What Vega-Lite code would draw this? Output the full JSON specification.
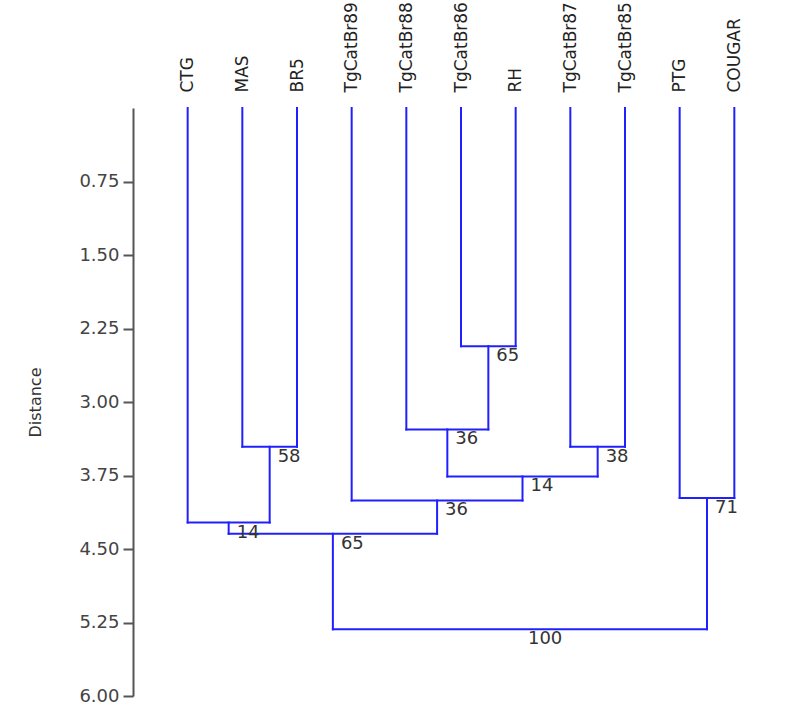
{
  "$schema": "https://vega.github.io/schema/vega-lite/v6.json",
  "width": 656,
  "height": 588,
  "autosize": {"type": "none"},
  "padding": {"left": 133, "top": 108, "right": 11, "bottom": 14},
  "background": "white",
  "config": {"view": {"stroke": null}},
  "datasets": {
    "segments": [
      {"x": 0, "x2": 0, "y": 0, "y2": 4.23},
      {"x": 1, "x2": 1, "y": 0, "y2": 3.457},
      {"x": 2, "x2": 2, "y": 0, "y2": 3.457},
      {"x": 3, "x2": 3, "y": 0, "y2": 4.005},
      {"x": 4, "x2": 4, "y": 0, "y2": 3.28},
      {"x": 5, "x2": 5, "y": 0, "y2": 2.43},
      {"x": 6, "x2": 6, "y": 0, "y2": 2.43},
      {"x": 7, "x2": 7, "y": 0, "y2": 3.457},
      {"x": 8, "x2": 8, "y": 0, "y2": 3.457},
      {"x": 9, "x2": 9, "y": 0, "y2": 3.98},
      {"x": 10, "x2": 10, "y": 0, "y2": 3.98},
      {"x": 5.5, "x2": 5.5, "y": 2.43, "y2": 3.28},
      {"x": 4.75, "x2": 4.75, "y": 3.28, "y2": 3.76},
      {"x": 1.5, "x2": 1.5, "y": 3.457, "y2": 4.23},
      {"x": 7.5, "x2": 7.5, "y": 3.457, "y2": 3.76},
      {"x": 6.125, "x2": 6.125, "y": 3.76, "y2": 4.005},
      {"x": 4.5625, "x2": 4.5625, "y": 4.005, "y2": 4.345},
      {"x": 9.5, "x2": 9.5, "y": 3.98, "y2": 5.32},
      {"x": 0.75, "x2": 0.75, "y": 4.23, "y2": 4.345},
      {"x": 2.65625, "x2": 2.65625, "y": 4.345, "y2": 5.32},
      {"x": 5, "x2": 6, "y": 2.43, "y2": 2.43},
      {"x": 4, "x2": 5.5, "y": 3.28, "y2": 3.28},
      {"x": 1, "x2": 2, "y": 3.457, "y2": 3.457},
      {"x": 7, "x2": 8, "y": 3.457, "y2": 3.457},
      {"x": 4.75, "x2": 7.5, "y": 3.76, "y2": 3.76},
      {"x": 3, "x2": 6.125, "y": 4.005, "y2": 4.005},
      {"x": 9, "x2": 10, "y": 3.98, "y2": 3.98},
      {"x": 0, "x2": 1.5, "y": 4.23, "y2": 4.23},
      {"x": 0.75, "x2": 4.5625, "y": 4.345, "y2": 4.345},
      {"x": 2.65625, "x2": 9.5, "y": 5.32, "y2": 5.32}
    ],
    "nodes": [
      {"x": 5.5, "y": 2.43, "support": "65"},
      {"x": 4.75, "y": 3.28, "support": "36"},
      {"x": 1.5, "y": 3.457, "support": "58"},
      {"x": 7.5, "y": 3.457, "support": "38"},
      {"x": 6.125, "y": 3.76, "support": "14"},
      {"x": 4.5625, "y": 4.005, "support": "36"},
      {"x": 9.5, "y": 3.98, "support": "71"},
      {"x": 0.75, "y": 4.23, "support": "14"},
      {"x": 2.65625, "y": 4.345, "support": "65"},
      {"x": 6.078, "y": 5.32, "support": "100"}
    ]
  },
  "encoding": {
    "x": {
      "field": "x",
      "type": "quantitative",
      "scale": {"domain": [-1, 11], "nice": false, "zero": false},
      "axis": {
        "orient": "top",
        "title": null,
        "values": [0, 1, 2, 3, 4, 5, 6, 7, 8, 9, 10],
        "labelExpr": "['CTG','MAS','BR5','TgCatBr89','TgCatBr88','TgCatBr86','RH','TgCatBr87','TgCatBr85','PTG','COUGAR'][datum.value]",
        "labelAngle": -90,
        "labelAlign": "left",
        "labelBaseline": "middle",
        "labelPadding": 16,
        "labelFont": "DejaVu Sans",
        "labelFontSize": 17,
        "labelColor": "#222222",
        "labelOverlap": false,
        "labelBound": false,
        "labelFlush": false,
        "domain": false,
        "ticks": false,
        "grid": false
      }
    },
    "y": {
      "field": "y",
      "type": "quantitative",
      "scale": {"domain": [0, 6], "reverse": true, "nice": false, "zero": false},
      "axis": {
        "title": "Distance",
        "titleFont": "DejaVu Sans",
        "titleFontSize": 16,
        "titleFontWeight": "normal",
        "titleColor": "#333333",
        "titleX": -98,
        "titleY": 294,
        "titleAngle": -90,
        "titleAlign": "center",
        "titleBaseline": "middle",
        "values": [0.75, 1.5, 2.25, 3, 3.75, 4.5, 5.25, 6],
        "format": ".2f",
        "labelFont": "DejaVu Sans",
        "labelFontSize": 18,
        "labelColor": "#444444",
        "labelPadding": 4,
        "labelFlush": false,
        "labelOverlap": false,
        "domainColor": "#555555",
        "domainWidth": 2,
        "tickColor": "#555555",
        "tickWidth": 2,
        "tickSize": 10,
        "grid": false
      }
    }
  },
  "layer": [
    {
      "data": {"name": "segments"},
      "mark": {"type": "rule", "color": "#2020ff", "strokeWidth": 2, "strokeCap": "square"},
      "encoding": {
        "x2": {"field": "x2"},
        "y2": {"field": "y2"}
      }
    },
    {
      "data": {"name": "nodes"},
      "mark": {"type": "text", "align": "left", "baseline": "top", "dx": 8, "dy": 1, "font": "DejaVu Sans", "fontSize": 18, "color": "#333333"},
      "encoding": {
        "text": {"field": "support"}
      }
    }
  ]
}
